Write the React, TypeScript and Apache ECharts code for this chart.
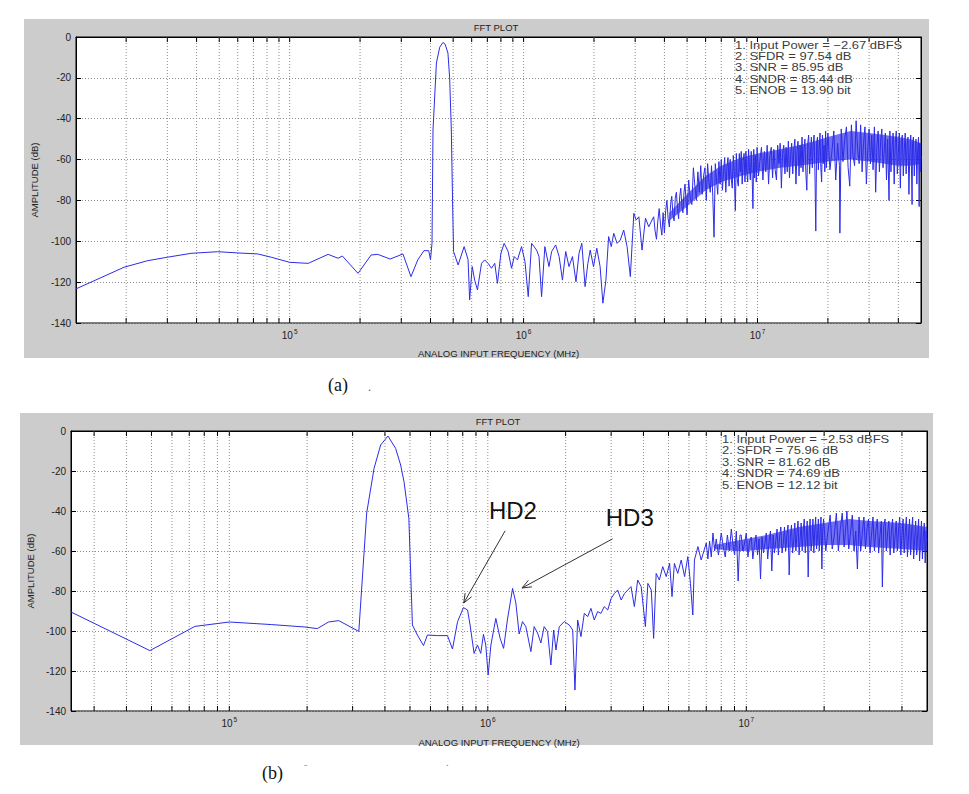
import React, { useEffect, useRef } from "react";
import * as echarts from "echarts";

// ---------- axis limits / ticks ----------
const FREQ_MIN_A = 12207; // fs/8192
const FREQ_MIN_B = 24414; // fs/4096
const FREQ_MAX = 5e7;
const DB_MIN = -140;
const DB_MAX = 0;
const DB_STEP = 20;

const gridFreqsA = [
  2e4, 3e4, 4e4, 5e4, 6e4, 7e4, 8e4, 9e4,
  1e5, 2e5, 3e5, 4e5, 5e5, 6e5, 7e5, 8e5, 9e5,
  1e6, 2e6, 3e6, 4e6, 5e6, 6e6, 7e6, 8e6, 9e6,
  1e7, 2e7, 3e7, 4e7,
];
const gridFreqsB = [
  3e4, 4e4, 5e4, 6e4, 7e4, 8e4, 9e4,
  1e5, 2e5, 3e5, 4e5, 5e5, 6e5, 7e5, 8e5, 9e5,
  1e6, 2e6, 3e6, 4e6, 5e6, 6e6, 7e6, 8e6, 9e6,
  1e7, 2e7, 3e7, 4e7,
];

// ---------- plot (a) spectrum [Hz, dB] ----------
const lowBandA = [
  [12207, -123.3], [19600, -112.7], [24700, -109.5], [30000, -107.8], [37900, -105.9],
  [49200, -105.1], [60000, -105.7], [73100, -106.2], [83400, -107.8], [1.0e5, -110.3],
  [1.2e5, -110.8], [1.46e5, -106.4], [1.61e5, -108.3], [1.68e5, -107.2], [1.96e5, -115.7],
  [2.23e5, -106.7], [2.38e5, -106.4], [2.69e5, -108.7], [3.05e5, -106.2], [3.3e5, -117.3],
  [3.53e5, -109.1], [3.75e5, -104.6], [3.93e5, -104.6], [4.0e5, -109],
];
const carrierA = [
  [4.06e5, -101], [4.1e5, -45.5], [4.24e5, -12.7], [4.38e5, -5], [4.52e5, -2.67],
  [4.62e5, -3.5], [4.75e5, -7.9], [4.83e5, -20], [4.91e5, -45.5], [4.97e5, -80], [5.02e5, -105],
];
const midBandA = [
  [5.25e5, -111.6], [5.57e5, -102.6], [5.79e5, -109], [5.88e5, -128.7], [6.03e5, -112.4],
  [6.18e5, -119], [6.35e5, -123.8], [6.61e5, -110.8], [6.82e5, -109.1], [7.05e5, -110.8],
  [7.29e5, -113.2], [7.53e5, -110.8], [7.73e5, -120.6], [8.0e5, -105.9], [8.26e5, -101],
  [8.59e5, -105], [8.88e5, -113.2], [9.12e5, -107.5], [9.42e5, -109.1], [9.8e5, -102.6],
  [1.014e6, -110], [1.047e6, -127.1], [1.082e6, -101], [1.137e6, -104.3], [1.164e6, -107.5],
  [1.194e6, -127.1], [1.233e6, -102.6], [1.284e6, -112.4], [1.318e6, -105], [1.371e6, -101.8],
  [1.419e6, -107.5], [1.466e6, -119], [1.514e6, -105], [1.564e6, -112.4], [1.618e6, -107.5],
  [1.675e6, -119.8], [1.726e6, -105.9], [1.774e6, -101], [1.832e6, -122.2], [1.883e6, -110.8],
  [1.927e6, -104.3], [1.99e6, -112.4], [2.056e6, -103.4], [2.124e6, -112.4], [2.183e6, -130.3],
  [2.249e6, -119], [2.31e6, -97.7], [2.37e6, -102.6], [2.43e6, -96.1], [2.51e6, -101],
  [2.59e6, -99.4], [2.68e6, -94.5], [2.77e6, -102.6], [2.86e6, -117.3], [2.96e6, -86.3],
  [3.03e6, -89.6], [3.11e6, -88], [3.21e6, -104.3], [3.32e6, -88.7], [3.43e6, -92.9], [3.54e6, -89.6],
];
// dense noise floor of (a), frequency in MHz
const noiseBandA_MHz = [
  [3.6, -88], [3.65, -95], [3.7, -99], [3.75, -90], [3.8, -84], [3.85, -92], [3.9, -97], [3.95, -86],
  [4.0, -96], [4.05, -85], [4.1, -80], [4.15, -89], [4.2, -93], [4.25, -82], [4.3, -78], [4.35, -87],
  [4.4, -90], [4.45, -79], [4.5, -76], [4.55, -84], [4.6, -89], [4.65, -78], [4.7, -74], [4.75, -83],
  [4.8, -86], [4.85, -76], [4.9, -72], [4.95, -80], [5.0, -87],
  [5.08, -70], [5.16, -79], [5.24, -82], [5.32, -64], [5.4, -73], [5.48, -80], [5.56, -66], [5.64, -76],
  [5.72, -63], [5.8, -77], [5.88, -68], [5.96, -64], [6.04, -80], [6.12, -62], [6.2, -71], [6.28, -76],
  [6.36, -63], [6.44, -78], [6.52, -98], [6.6, -62], [6.68, -70], [6.76, -77], [6.84, -61], [6.92, -72],
  [7.0, -60], [7.08, -75], [7.16, -66], [7.24, -59], [7.32, -76], [7.4, -64], [7.48, -59], [7.56, -73],
  [7.64, -60], [7.72, -69], [7.8, -74], [7.88, -58], [7.96, -67], [8.04, -85], [8.12, -57], [8.2, -70],
  [8.28, -73], [8.36, -57], [8.44, -66], [8.52, -56], [8.6, -72], [8.68, -61], [8.76, -57], [8.84, -71],
  [8.92, -56], [9.0, -66], [9.08, -71], [9.16, -55], [9.24, -64], [9.32, -70], [9.4, -56], [9.48, -67],
  [9.56, -84], [9.64, -55], [9.72, -69], [9.8, -58], [9.88, -71], [9.96, -54],
  [10.1, -68], [10.25, -60], [10.4, -54], [10.55, -70], [10.7, -56], [10.85, -66], [11.0, -53], [11.15, -72],
  [11.3, -58], [11.45, -54], [11.6, -69], [11.75, -55], [11.9, -65], [12.05, -70], [12.2, -53], [12.35, -62],
  [12.5, -52], [12.65, -74], [12.8, -57], [12.95, -53], [13.1, -67], [13.25, -54], [13.4, -66], [13.55, -51],
  [13.7, -69], [13.85, -58], [14.0, -52], [14.15, -67], [14.3, -55], [14.45, -50], [14.6, -72], [14.75, -56],
  [14.9, -51], [15.05, -68], [15.2, -53], [15.35, -64], [15.5, -49], [15.65, -66], [15.8, -55], [15.95, -50],
  [16.1, -67], [16.25, -75], [16.4, -52], [16.55, -48], [16.7, -67], [16.85, -56], [17.0, -49], [17.15, -64],
  [17.3, -53], [17.45, -48], [17.6, -66], [17.75, -95], [17.9, -52], [18.05, -49], [18.2, -65], [18.35, -55],
  [18.5, -47], [18.65, -64], [18.8, -71], [18.95, -48], [19.1, -62], [19.25, -53], [19.4, -66], [19.55, -46],
  [19.7, -64], [19.85, -54],
  [20.0, -47], [20.4, -65], [20.8, -56], [21.2, -46], [21.6, -70], [22.0, -52], [22.4, -63], [22.5, -96],
  [22.8, -45], [23.2, -61], [23.6, -50], [24.0, -44], [24.4, -64], [24.8, -73], [25.2, -43], [25.6, -58],
  [26.0, -63], [26.4, -41], [26.8, -55], [27.2, -62], [27.6, -43], [28.0, -66], [28.4, -52], [28.8, -44],
  [29.2, -72], [29.6, -55], [30.0, -45], [30.4, -62], [30.8, -48], [31.2, -65], [31.6, -44], [32.0, -76],
  [32.4, -53], [32.8, -46], [33.2, -66], [33.6, -51], [34.0, -45], [34.4, -64], [34.8, -56], [35.2, -47],
  [35.6, -70], [36.0, -50], [36.5, -80], [36.8, -46], [37.2, -66], [37.6, -54], [38.0, -47], [38.4, -72],
  [38.8, -52], [39.2, -46], [39.6, -67], [40.0, -57], [40.4, -47], [40.8, -74], [41.2, -51], [41.6, -48],
  [42.0, -68], [42.4, -55], [42.8, -47], [43.2, -67], [43.6, -53], [44.0, -49], [44.4, -77], [44.8, -56],
  [45.2, -48], [45.6, -69], [45.8, -82], [46.0, -52], [46.4, -49], [46.8, -68], [47.2, -57], [47.6, -50],
  [48.0, -72], [48.4, -55], [48.8, -49], [49.1, -83], [49.4, -52], [49.7, -66], [50.0, -58],
];
// solid core of the (a) noise floor: [MHz, upper dB, lower dB]
const coreBandA_MHz = [
  [4.2, -86, -90], [5.0, -77, -83], [6.0, -68, -75], [7.0, -63, -71], [8.5, -59, -68],
  [10, -57, -66], [12.5, -55, -64], [15, -53, -63], [17.5, -51, -62], [20, -49, -61],
  [25, -46, -60], [30, -47, -61], [35, -48, -62], [40, -49, -63], [45, -50, -63], [50, -52, -62],
];

// ---------- plot (b) spectrum [Hz, dB] ----------
const lowBandB = [
  [24414, -90.5], [4.93e4, -109.8], [7.36e4, -97.7], [1.0e5, -95.5], [1.46e5, -96.8],
  [1.96e5, -98], [2.19e5, -98.8], [2.42e5, -95.5], [2.65e5, -94.8], [3.17e5, -100.2],
];
const carrierB = [
  [3.4e5, -41], [3.63e5, -18.7], [3.85e5, -7], [4.11e5, -2.53], [4.4e5, -8.7], [4.6e5, -17],
  [4.74e5, -25.3], [4.95e5, -43.7], [5.11e5, -97],
];
const midBandB = [
  [5.34e5, -102], [5.64e5, -107.3], [5.84e5, -102], [6.38e5, -102.3], [6.98e5, -102.3],
  [7.3e5, -109], [7.64e5, -95.3], [8.05e5, -88.3], [8.35e5, -89.5], [8.54e5, -97],
  [8.85e5, -111.2], [9.12e5, -107], [9.39e5, -111.2], [9.62e5, -101.7], [9.82e5, -107],
  [1.003e6, -122], [1.028e6, -107], [1.074e6, -93.7], [1.116e6, -103.7], [1.151e6, -108.7],
  [1.192e6, -94], [1.247e6, -78.7], [1.284e6, -86], [1.322e6, -101.5], [1.362e6, -95.3],
  [1.403e6, -97.8], [1.468e6, -110.3], [1.511e6, -97.8], [1.558e6, -101], [1.604e6, -106],
  [1.652e6, -97.8], [1.703e6, -100.3], [1.754e6, -117], [1.798e6, -99.5], [1.835e6, -109.5],
  [1.89e6, -97.8], [1.977e6, -95.3], [2.066e6, -97], [2.13e6, -99.5], [2.173e6, -129.5],
  [2.226e6, -94.5], [2.293e6, -102.8], [2.362e6, -91.2], [2.434e6, -92.8], [2.506e6, -88.7],
  [2.581e6, -94.5], [2.66e6, -90.3], [2.74e6, -91.2], [2.82e6, -87.8], [2.91e6, -89.5],
  [3.0e6, -83.7], [3.09e6, -81.2], [3.18e6, -79.5], [3.28e6, -84.5], [3.38e6, -81.2],
  [3.48e6, -79.5], [3.58e6, -77.8], [3.69e6, -87.8], [3.8e6, -74.5], [3.92e6, -77.8],
  [4.07e6, -97.8], [4.16e6, -76.2], [4.29e6, -79.5], [4.38e6, -103.7], [4.48e6, -71.2],
  [4.61e6, -74.5], [4.75e6, -67.8], [4.9e6, -72.8], [5.05e6, -66.2], [5.16e6, -82.8],
  [5.27e6, -66.2], [5.43e6, -71.2], [5.6e6, -64.5], [5.77e6, -72.8], [5.94e6, -62.8],
  [6.08e6, -76.2], [6.21e6, -92], [6.3e6, -64.5], [6.5e6, -57.8], [6.69e6, -64.5],
  [7.0e6, -56], [7.1e6, -64], [7.21e6, -55], [7.32e6, -63], [7.43e6, -51], [7.54e6, -60],
  [7.65e6, -54], [7.8e6, -62], [8.0e6, -51], [8.15e6, -58], [8.29e6, -63], [8.45e6, -52],
  [8.6e6, -60], [8.75e6, -49], [8.9e6, -58], [9.01e6, -62], [9.15e6, -50], [9.3e6, -75], [9.45e6, -52],
];
// dense noise floor of (b), frequency in MHz
const noiseBandB_MHz = [
  [9.55, -52], [9.7, -60], [9.85, -56], [10.0, -51], [10.15, -63], [10.3, -55], [10.45, -53], [10.6, -64],
  [10.75, -57], [10.9, -52], [11.05, -62], [11.2, -54], [11.35, -74], [11.5, -53], [11.65, -61], [11.8, -56],
  [11.95, -51], [12.1, -64], [12.25, -55], [12.4, -50], [12.55, -70], [12.7, -52], [12.85, -61], [13.0, -55],
  [13.15, -49], [13.3, -62], [13.45, -53], [13.6, -48], [13.75, -61], [13.9, -56], [14.05, -48], [14.2, -60],
  [14.35, -52], [14.5, -47], [14.65, -72], [14.8, -53], [14.95, -47], [15.1, -61], [15.25, -55], [15.4, -46],
  [15.55, -60], [15.7, -51], [15.85, -45], [16.0, -62], [16.15, -54], [16.3, -46], [16.45, -60], [16.6, -50],
  [16.75, -44], [16.9, -61], [17.05, -53], [17.2, -45], [17.35, -73], [17.5, -51], [17.65, -44], [17.8, -60],
  [17.95, -54], [18.1, -44], [18.25, -61], [18.4, -50], [18.55, -43], [18.7, -59], [18.85, -53], [19.0, -44],
  [19.15, -60], [19.3, -51], [19.45, -43], [19.6, -69], [19.75, -50], [19.9, -44],
  [20.3, -60], [20.7, -50], [21.1, -42], [21.5, -59], [21.9, -52], [22.3, -41], [22.7, -60], [23.1, -49],
  [23.5, -41], [23.9, -58], [24.3, -47], [24.5, -40], [24.9, -59], [25.3, -51], [25.7, -42], [26.1, -60],
  [26.5, -50], [26.9, -69], [27.3, -43], [27.7, -60], [28.1, -51], [28.5, -43], [28.9, -59], [29.3, -49],
  [29.7, -44], [30.1, -61], [30.5, -52], [30.9, -43], [31.3, -60], [31.7, -50], [32.1, -44], [32.5, -61],
  [32.9, -52], [33.3, -45], [33.6, -78], [34.0, -48], [34.4, -44], [34.8, -60], [35.2, -51], [35.6, -45],
  [36.0, -62], [36.4, -50], [36.8, -44], [37.2, -61], [37.6, -53], [38.0, -45], [38.4, -60], [38.8, -50],
  [39.2, -43], [39.6, -62], [40.0, -52], [40.4, -44], [40.8, -61], [41.2, -51], [41.6, -43], [42.0, -63],
  [42.4, -53], [42.8, -44], [43.2, -62], [43.6, -50], [44.0, -43], [44.4, -64], [44.8, -54], [45.2, -45],
  [45.6, -62], [46.0, -52], [46.4, -44], [46.8, -65], [47.2, -55], [47.6, -45], [48.0, -64], [48.4, -53],
  [48.8, -46], [49.2, -66], [49.6, -50], [50.0, -55],
];
// solid core of the (b) noise floor: [MHz, upper dB, lower dB]
const coreBandB_MHz = [
  [7.5, -57, -59], [9, -55, -60], [10, -54, -60], [12, -52, -59], [16, -48, -58], [20, -46, -57],
  [25, -44, -57], [30, -45, -58], [40, -46, -59], [50, -48, -60],
];

// ---------- annotations (b) ----------
const hdLabels = ["HD2", "HD3"];
const hdTextAt = [[1.01e6, -39.5], [2.86e6, -43]];
const hdArrowFrom = [[1.167e6, -49.9], [3.04e6, -53.9]];
const hdArrowTo = [[8.07e5, -86], [1.356e6, -78.5]];

// ---------- texts ----------
const titleText = "FFT PLOT";
const xAxisTitle = "ANALOG INPUT FREQUENCY (MHz)";
const yAxisTitle = "AMPLITUDE (dB)";
const statsA = [
  "1. Input Power = \u22122.67 dBFS",
  "2. SFDR = 97.54 dB",
  "3. SNR = 85.95 dB",
  "4. SNDR = 85.44 dB",
  "5. ENOB = 13.90 bit",
];
const statsB = [
  "1. Input Power = \u22122.53 dBFS",
  "2. SFDR = 75.96 dB",
  "3. SNR = 81.62 dB",
  "4. SNDR = 74.69 dB",
  "5. ENOB = 12.12 bit",
];

const FONT = '"Liberation Sans", Arial, sans-serif';
const SERIF = '"Liberation Serif", "DejaVu Serif", serif';
const LINE_COLOR = "#2c2ce8";
const CORE_COLOR = "rgba(24,24,230,0.62)";
const GRID_COLOR = "#8c8c8c";

const MHZ = 1e6;
const toHz = (rows: number[][]) => rows.map(([f, d]) => [f * MHZ, d]);
const coreToHz = (rows: number[][]) => rows.map(([f, u, l]) => [f * MHZ, u, l]);

function xAxisCfg(gridIndex: number, min: number, nameGap: number) {
  return {
    type: "log",
    logBase: 10,
    gridIndex,
    min,
    max: FREQ_MAX,
    name: xAxisTitle,
    nameLocation: "middle",
    nameGap,
    nameTextStyle: { fontFamily: FONT, fontSize: 9.5, color: "#222" },
    axisLine: { show: true, lineStyle: { color: "#000", width: 1 } },
    axisTick: { show: false },
    splitLine: { show: false },
    minorTick: { show: false },
    minorSplitLine: { show: false },
    axisLabel: {
      margin: 5,
      showMinLabel: false,
      showMaxLabel: false,
      formatter: (v: number) => {
        const e = Math.log10(v);
        const r = Math.round(e);
        if (Math.abs(e - r) > 1e-6) return "";
        return "{b|10}{e|" + r + "}";
      },
      rich: {
        b: { fontFamily: FONT, fontSize: 10, color: "#222", lineHeight: 12, verticalAlign: "bottom" },
        e: { fontFamily: FONT, fontSize: 6.5, color: "#222", lineHeight: 7, verticalAlign: "top", padding: [0, 0, 0, 1] },
      },
    },
  };
}

function yAxisCfg(gridIndex: number, position: string, nameGap: number) {
  const left = position === "left";
  return {
    type: "value",
    gridIndex,
    position,
    min: DB_MIN,
    max: DB_MAX,
    interval: DB_STEP,
    name: left ? yAxisTitle : "",
    nameLocation: "middle",
    nameGap,
    nameRotate: 90,
    nameTextStyle: { fontFamily: FONT, fontSize: 9.5, color: "#222" },
    axisLine: { show: true, onZero: false, lineStyle: { color: "#000", width: 1 } },
    axisTick: { show: true, inside: true, length: 5, lineStyle: { color: "#000" } },
    axisLabel: left
      ? { show: true, margin: 5, fontFamily: FONT, fontSize: 10, color: "#222" }
      : { show: false },
    splitLine: left
      ? { show: true, lineStyle: { color: GRID_COLOR, width: 1, type: [1, 2] } }
      : { show: false },
  };
}

function gridSeries(xi: number, yi: number, freqs: number[]) {
  return {
    type: "custom",
    xAxisIndex: xi,
    yAxisIndex: yi,
    silent: true,
    z: 1,
    data: freqs.map((f) => [f, -70]),
    renderItem: (params: any, api: any) => {
      const x = api.coord([api.value(0), -70])[0];
      const cs = params.coordSys;
      const top = cs.y;
      const bot = cs.y + cs.height;
      return {
        type: "group",
        children: [
          { type: "line", shape: { x1: x, y1: top, x2: x, y2: bot }, style: { stroke: GRID_COLOR, lineWidth: 1, lineDash: [1, 2] } },
          { type: "line", shape: { x1: x, y1: bot - 5, x2: x, y2: bot }, style: { stroke: "#000", lineWidth: 1 } },
          { type: "line", shape: { x1: x, y1: top, x2: x, y2: top + 5 }, style: { stroke: "#000", lineWidth: 1 } },
        ],
      };
    },
  };
}

// filled core of a dense noise floor, drawn as one polygon from the band rows
function coreSeries(xi: number, yi: number, rows: number[][]) {
  return {
    type: "custom",
    xAxisIndex: xi,
    yAxisIndex: yi,
    silent: true,
    z: 2,
    encode: { x: 0, y: [1, 2] },
    data: rows,
    renderItem: (params: any, api: any) => {
      if (params.dataIndexInside !== 0) return null;
      const n = params.dataInsideLength;
      const upper: number[][] = [];
      const lower: number[][] = [];
      for (let j = 0; j < n; j++) {
        const f = api.value(0, j);
        upper.push(api.coord([f, api.value(1, j)]));
        lower.push(api.coord([f, api.value(2, j)]));
      }
      return {
        type: "polygon",
        shape: { points: upper.concat(lower.reverse()) },
        style: { fill: CORE_COLOR, stroke: "none" },
      };
    },
  };
}

function lineSeries(xi: number, yi: number, data: number[][]) {
  return {
    type: "line",
    xAxisIndex: xi,
    yAxisIndex: yi,
    data,
    showSymbol: false,
    symbol: "none",
    silent: true,
    z: 3,
    lineStyle: { color: LINE_COLOR, width: 1 },
  };
}

function annotationSeries(xi: number, yi: number) {
  return {
    type: "custom",
    xAxisIndex: xi,
    yAxisIndex: yi,
    silent: true,
    z: 6,
    encode: { x: [0, 2, 4], y: [1, 3, 5] },
    data: hdLabels.map((_, i) => [
      hdArrowFrom[i][0], hdArrowFrom[i][1], hdArrowTo[i][0], hdArrowTo[i][1], hdTextAt[i][0], hdTextAt[i][1],
    ]),
    renderItem: (params: any, api: any) => {
      const p1 = api.coord([api.value(0), api.value(1)]);
      const p2 = api.coord([api.value(2), api.value(3)]);
      const pt = api.coord([api.value(4), api.value(5)]);
      const ang = Math.atan2(p2[1] - p1[1], p2[0] - p1[0]);
      const L = 10;
      const spread = 0.38;
      const a1 = ang + Math.PI - spread;
      const a2 = ang + Math.PI + spread;
      const st = { stroke: "#333", lineWidth: 1 };
      return {
        type: "group",
        children: [
          { type: "line", shape: { x1: p1[0], y1: p1[1], x2: p2[0], y2: p2[1] }, style: st },
          { type: "line", shape: { x1: p2[0], y1: p2[1], x2: p2[0] + L * Math.cos(a1), y2: p2[1] + L * Math.sin(a1) }, style: st },
          { type: "line", shape: { x1: p2[0], y1: p2[1], x2: p2[0] + L * Math.cos(a2), y2: p2[1] + L * Math.sin(a2) }, style: st },
          {
            type: "text",
            x: pt[0],
            y: pt[1],
            style: {
              text: hdLabels[params.dataIndex],
              fill: "#111",
              fontFamily: FONT,
              fontSize: 24,
              align: "left",
              verticalAlign: "middle",
            },
          },
        ],
      };
    },
  };
}

function textEl(text: string, x: number, y: number, size: number, opts: any = {}) {
  const style: any = {
    text,
    fill: opts.fill || "#222",
    fontFamily: opts.family || FONT,
    fontSize: size,
    fontWeight: opts.weight || "normal",
    align: opts.align || "left",
    verticalAlign: "middle",
  };
  if (opts.lineHeight) style.lineHeight = opts.lineHeight;
  const el: any = { type: "text", x, y, z: 50, silent: true, style };
  if (opts.scaleX) el.scaleX = opts.scaleX;
  return el;
}

export default function App() {
  const ref = useRef<HTMLDivElement>(null);

  useEffect(() => {
    if (!ref.current) return;
    const chart = echarts.init(ref.current, undefined, { renderer: "svg" });

    const statOpts = { fill: "#3c3c3c", lineHeight: 10, scaleX: 1.18 };
    const graphic: any[] = [
      { type: "rect", z: -10, silent: true, shape: { x: 24, y: 19, width: 905, height: 339 }, style: { fill: "#cccccc" } },
      { type: "rect", z: -10, silent: true, shape: { x: 20, y: 413, width: 913, height: 332 }, style: { fill: "#cccccc" } },
      textEl(titleText, 496, 27, 9.5, { align: "center" }),
      textEl(titleText, 498, 421, 9.5, { align: "center" }),
      ...statsA.map((s, i) => textEl(s, 735, 45 + i * 11.3, 11, statOpts)),
      ...statsB.map((s, i) => textEl(s, 722, 439 + i * 11.5, 11, statOpts)),
      textEl("(a)", 328, 385, 18, { family: SERIF, fill: "#111" }),
      textEl(".", 368, 387, 12, { family: SERIF, fill: "#555" }),
      textEl("(b)", 262, 773, 18, { family: SERIF, fill: "#111" }),
      textEl("-", 304, 764, 10, { fill: "#999" }),
      textEl(".", 446, 762, 10, { fill: "#777" }),
    ];

    const option: any = {
      animation: false,
      backgroundColor: "#ffffff",
      graphic,
      grid: [
        { left: 76, top: 37, width: 845, height: 286, show: true, backgroundColor: "#ffffff", borderColor: "#000", borderWidth: 1 },
        { left: 71, top: 431, width: 856, height: 280, show: true, backgroundColor: "#ffffff", borderColor: "#000", borderWidth: 1 },
      ],
      xAxis: [xAxisCfg(0, FREQ_MIN_A, 25), xAxisCfg(1, FREQ_MIN_B, 26)],
      yAxis: [
        yAxisCfg(0, "left", 37),
        yAxisCfg(0, "right", 10),
        yAxisCfg(1, "left", 36),
        yAxisCfg(1, "right", 10),
      ],
      series: [
        gridSeries(0, 0, gridFreqsA),
        coreSeries(0, 0, coreToHz(coreBandA_MHz)),
        lineSeries(0, 0, [...lowBandA, ...carrierA, ...midBandA, ...toHz(noiseBandA_MHz)]),
        gridSeries(1, 2, gridFreqsB),
        coreSeries(1, 2, coreToHz(coreBandB_MHz)),
        lineSeries(1, 2, [...lowBandB, ...carrierB, ...midBandB, ...toHz(noiseBandB_MHz)]),
        annotationSeries(1, 2),
      ],
    };

    chart.setOption(option);
    return () => chart.dispose();
  }, []);

  return (
    <div
      ref={ref}
      style={{ position: "absolute", left: 0, top: 0, width: 969, height: 794, background: "#fff" }}
    />
  );
}
